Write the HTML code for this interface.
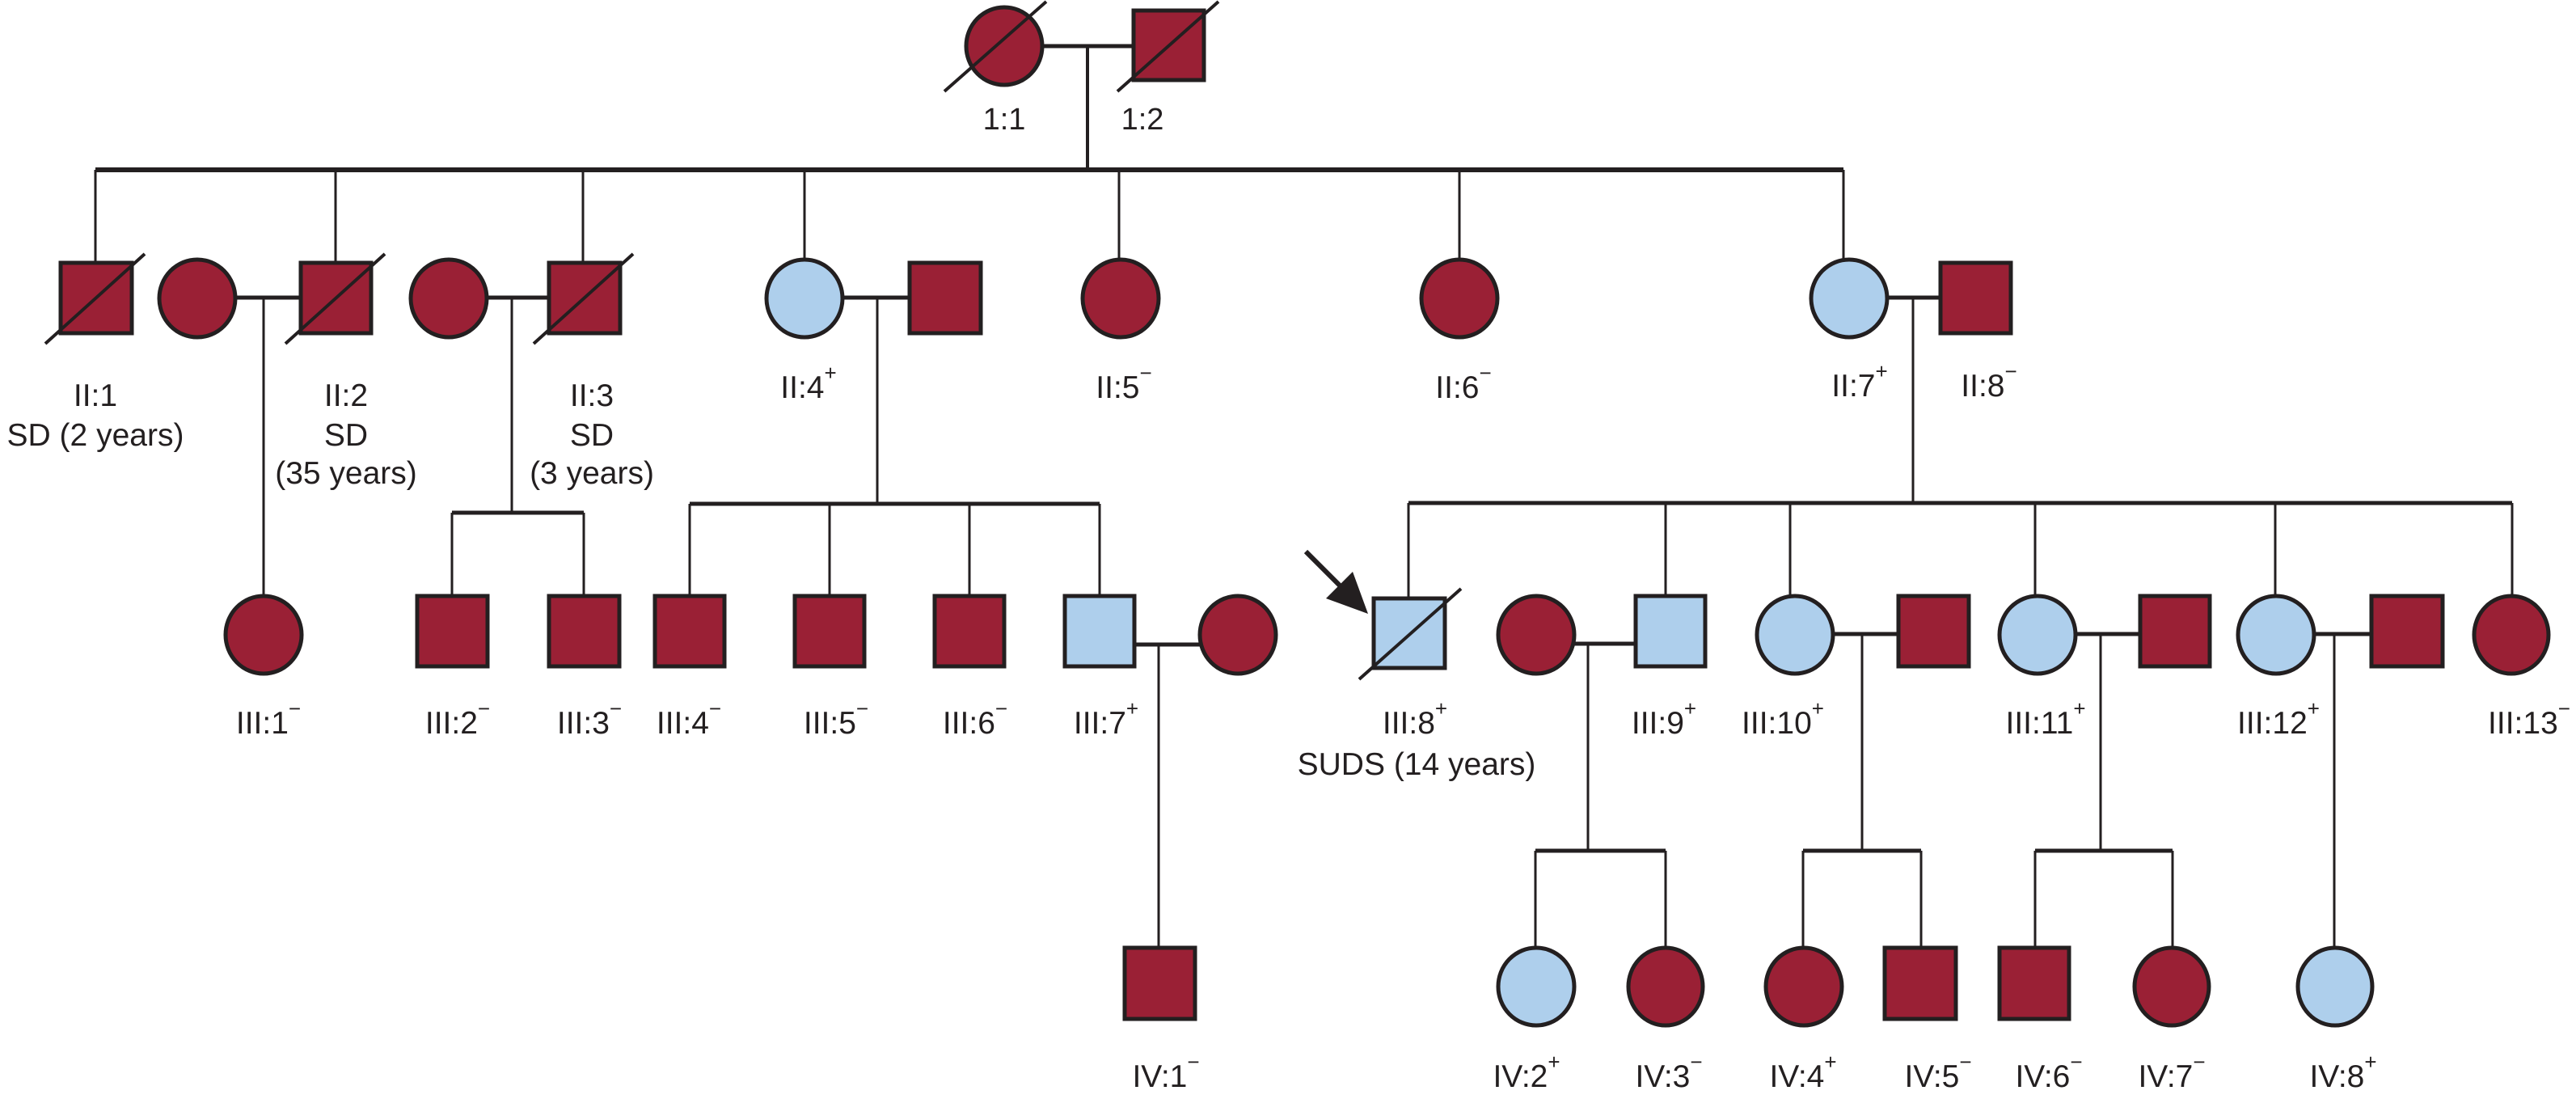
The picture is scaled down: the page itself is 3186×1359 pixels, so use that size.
<!DOCTYPE html>
<html><head><meta charset="utf-8"><style>
html,body{margin:0;padding:0;background:#fff;}
svg{display:block}
text{font-family:"Liberation Sans",sans-serif;font-size:39px;fill:#231f20;}
.r{font-family:"Liberation Sans",sans-serif;font-size:38px;}
.s{font-size:26px;}
</style></head><body>
<svg width="3186" height="1359" viewBox="0 0 3186 1359" xmlns="http://www.w3.org/2000/svg">
<g stroke="#231f20" fill="none">
<line x1="1290" y1="57" x2="1402" y2="57" stroke-width="5"/>
<line x1="1345" y1="57" x2="1345" y2="210" stroke-width="4"/>
<line x1="118" y1="210" x2="2280" y2="210" stroke-width="6"/>
<line x1="118" y1="210" x2="118" y2="325" stroke-width="3"/>
<line x1="415" y1="210" x2="415" y2="325" stroke-width="3"/>
<line x1="721" y1="210" x2="721" y2="325" stroke-width="3"/>
<line x1="995" y1="210" x2="995" y2="320" stroke-width="3"/>
<line x1="1384" y1="210" x2="1384" y2="320" stroke-width="3"/>
<line x1="1805" y1="210" x2="1805" y2="320" stroke-width="3"/>
<line x1="2280" y1="210" x2="2280" y2="320" stroke-width="3"/>
<line x1="291" y1="368" x2="372" y2="368" stroke-width="5"/>
<line x1="326" y1="368" x2="326" y2="737" stroke-width="3"/>
<line x1="602" y1="368" x2="679" y2="368" stroke-width="5"/>
<line x1="633" y1="368" x2="633" y2="634" stroke-width="3"/>
<line x1="559" y1="634" x2="722" y2="634" stroke-width="5"/>
<line x1="559" y1="634" x2="559" y2="737" stroke-width="3"/>
<line x1="722" y1="634" x2="722" y2="737" stroke-width="3"/>
<line x1="1042" y1="368" x2="1125" y2="368" stroke-width="5"/>
<line x1="1085" y1="368" x2="1085" y2="623" stroke-width="3"/>
<line x1="853" y1="623" x2="1360" y2="623" stroke-width="5"/>
<line x1="853" y1="623" x2="853" y2="737" stroke-width="3"/>
<line x1="1026" y1="623" x2="1026" y2="737" stroke-width="3"/>
<line x1="1199" y1="623" x2="1199" y2="737" stroke-width="3"/>
<line x1="1360" y1="623" x2="1360" y2="737" stroke-width="3"/>
<line x1="2333" y1="368" x2="2400" y2="368" stroke-width="5"/>
<line x1="2366" y1="368" x2="2366" y2="622" stroke-width="3"/>
<line x1="1742" y1="622" x2="3107" y2="622" stroke-width="5"/>
<line x1="1742" y1="622" x2="1742" y2="740" stroke-width="3"/>
<line x1="2060" y1="622" x2="2060" y2="737" stroke-width="3"/>
<line x1="2214" y1="622" x2="2214" y2="737" stroke-width="3"/>
<line x1="2517" y1="622" x2="2517" y2="737" stroke-width="3"/>
<line x1="2814" y1="622" x2="2814" y2="737" stroke-width="3"/>
<line x1="3107" y1="622" x2="3107" y2="737" stroke-width="3"/>
<line x1="1403" y1="797" x2="1484" y2="797" stroke-width="5"/>
<line x1="1433" y1="797" x2="1433" y2="1172" stroke-width="3"/>
<line x1="1947" y1="796" x2="2023" y2="796" stroke-width="5"/>
<line x1="1964" y1="796" x2="1964" y2="1052" stroke-width="3"/>
<line x1="1899" y1="1052" x2="2060" y2="1052" stroke-width="5"/>
<line x1="1899" y1="1052" x2="1899" y2="1172" stroke-width="3"/>
<line x1="2060" y1="1052" x2="2060" y2="1172" stroke-width="3"/>
<line x1="2268" y1="784" x2="2348" y2="784" stroke-width="5"/>
<line x1="2303" y1="784" x2="2303" y2="1052" stroke-width="3"/>
<line x1="2230" y1="1052" x2="2376" y2="1052" stroke-width="5"/>
<line x1="2230" y1="1052" x2="2230" y2="1172" stroke-width="3"/>
<line x1="2376" y1="1052" x2="2376" y2="1172" stroke-width="3"/>
<line x1="2568" y1="784" x2="2647" y2="784" stroke-width="5"/>
<line x1="2598" y1="784" x2="2598" y2="1052" stroke-width="3"/>
<line x1="2517" y1="1052" x2="2687" y2="1052" stroke-width="5"/>
<line x1="2517" y1="1052" x2="2517" y2="1172" stroke-width="3"/>
<line x1="2687" y1="1052" x2="2687" y2="1172" stroke-width="3"/>
<line x1="2862" y1="784" x2="2933" y2="784" stroke-width="5"/>
<line x1="2887" y1="784" x2="2887" y2="1172" stroke-width="3"/>
</g>
<g stroke="#231f20" stroke-width="5" fill="#9a2035">
<ellipse cx="1242" cy="57" rx="47" ry="48"/>
<rect x="1402" y="13" width="87" height="86"/>
<rect x="75" y="325" width="88" height="87"/>
<ellipse cx="244" cy="369" rx="47" ry="48"/>
<rect x="372" y="325" width="87" height="87"/>
<ellipse cx="555" cy="369" rx="47" ry="48"/>
<rect x="679" y="325" width="88" height="87"/>
<ellipse cx="995" cy="369" rx="47" ry="48" fill="#aecfec"/>
<rect x="1125" y="325" width="88" height="87"/>
<ellipse cx="1386" cy="369" rx="47" ry="48"/>
<ellipse cx="1805" cy="369" rx="47" ry="48"/>
<ellipse cx="2287" cy="369" rx="47" ry="48" fill="#aecfec"/>
<rect x="2400" y="325" width="87" height="87"/>
<ellipse cx="326" cy="785" rx="47" ry="48"/>
<rect x="516" y="737" width="87" height="87"/>
<rect x="679" y="737" width="87" height="87"/>
<rect x="810" y="737" width="86" height="87"/>
<rect x="983" y="737" width="86" height="87"/>
<rect x="1156" y="737" width="86" height="87"/>
<rect x="1317" y="737" width="86" height="87" fill="#aecfec"/>
<ellipse cx="1531" cy="785" rx="47" ry="48"/>
<rect x="1699" y="740" width="88" height="86" fill="#aecfec"/>
<ellipse cx="1900" cy="785" rx="47" ry="48"/>
<rect x="2023" y="737" width="86" height="87" fill="#aecfec"/>
<ellipse cx="2220" cy="785" rx="47" ry="48" fill="#aecfec"/>
<rect x="2348" y="737" width="87" height="87"/>
<ellipse cx="2520" cy="785" rx="47" ry="48" fill="#aecfec"/>
<rect x="2647" y="737" width="86" height="87"/>
<ellipse cx="2815" cy="785" rx="47" ry="48" fill="#aecfec"/>
<rect x="2933" y="737" width="88" height="87"/>
<ellipse cx="3106" cy="785" rx="46" ry="48"/>
<rect x="1391" y="1172" width="87" height="88"/>
<ellipse cx="1900" cy="1220" rx="47" ry="48" fill="#aecfec"/>
<ellipse cx="2060" cy="1220" rx="46" ry="48"/>
<ellipse cx="2231" cy="1220" rx="47" ry="48"/>
<rect x="2331" y="1172" width="88" height="88"/>
<rect x="2473" y="1172" width="86" height="88"/>
<ellipse cx="2686" cy="1220" rx="46" ry="48"/>
<ellipse cx="2888" cy="1220" rx="46" ry="48" fill="#aecfec"/>
</g>
<g stroke="#231f20" stroke-width="4">
<line x1="1168" y1="113" x2="1294" y2="2"/>
<line x1="1382" y1="113" x2="1507" y2="2"/>
<line x1="56" y1="425" x2="179" y2="314"/>
<line x1="353" y1="425" x2="476" y2="314"/>
<line x1="660" y1="425" x2="783" y2="314"/>
<line x1="1681" y1="840" x2="1807" y2="728"/>
</g>
<line x1="1615" y1="682" x2="1665" y2="732" stroke="#231f20" stroke-width="6"/>
<polygon points="1692,759 1673,707 1640,740" fill="#231f20"/>
<text class="r" x="1242" y="160" text-anchor="middle">1:1</text>
<text class="r" x="1413" y="160" text-anchor="middle">1:2</text>
<text x="118" y="502" text-anchor="middle">II:1</text>
<text x="118" y="551" text-anchor="middle">SD (2 years)</text>
<text x="428" y="502" text-anchor="middle">II:2</text>
<text x="428" y="551" text-anchor="middle">SD</text>
<text x="428" y="598" text-anchor="middle">(35 years)</text>
<text x="732" y="502" text-anchor="middle">II:3</text>
<text x="732" y="551" text-anchor="middle">SD</text>
<text x="732" y="598" text-anchor="middle">(3 years)</text>
<text x="1000" y="492" text-anchor="middle">II:4<tspan class="s" dy="-22">+</tspan></text>
<text x="1390" y="492" text-anchor="middle">II:5<tspan class="s" dy="-22">−</tspan></text>
<text x="1810" y="492" text-anchor="middle">II:6<tspan class="s" dy="-22">−</tspan></text>
<text x="2300" y="490" text-anchor="middle">II:7<tspan class="s" dy="-22">+</tspan></text>
<text x="2460" y="490" text-anchor="middle">II:8<tspan class="s" dy="-22">−</tspan></text>
<text x="332" y="907" text-anchor="middle">III:1<tspan class="s" dy="-22">−</tspan></text>
<text x="566" y="907" text-anchor="middle">III:2<tspan class="s" dy="-22">−</tspan></text>
<text x="729" y="907" text-anchor="middle">III:3<tspan class="s" dy="-22">−</tspan></text>
<text x="852" y="907" text-anchor="middle">III:4<tspan class="s" dy="-22">−</tspan></text>
<text x="1034" y="907" text-anchor="middle">III:5<tspan class="s" dy="-22">−</tspan></text>
<text x="1206" y="907" text-anchor="middle">III:6<tspan class="s" dy="-22">−</tspan></text>
<text x="1368" y="907" text-anchor="middle">III:7<tspan class="s" dy="-22">+</tspan></text>
<text x="1750" y="907" text-anchor="middle">III:8<tspan class="s" dy="-22">+</tspan></text>
<text x="1752" y="958" text-anchor="middle">SUDS (14 years)</text>
<text x="2058" y="907" text-anchor="middle">III:9<tspan class="s" dy="-22">+</tspan></text>
<text x="2205" y="907" text-anchor="middle">III:10<tspan class="s" dy="-22">+</tspan></text>
<text x="2530" y="907" text-anchor="middle">III:11<tspan class="s" dy="-22">+</tspan></text>
<text x="2818" y="907" text-anchor="middle">III:12<tspan class="s" dy="-22">+</tspan></text>
<text x="3128" y="907" text-anchor="middle">III:13<tspan class="s" dy="-22">−</tspan></text>
<text x="1442" y="1344" text-anchor="middle">IV:1<tspan class="s" dy="-22">−</tspan></text>
<text x="1888" y="1344" text-anchor="middle">IV:2<tspan class="s" dy="-22">+</tspan></text>
<text x="2064" y="1344" text-anchor="middle">IV:3<tspan class="s" dy="-22">−</tspan></text>
<text x="2230" y="1344" text-anchor="middle">IV:4<tspan class="s" dy="-22">+</tspan></text>
<text x="2397" y="1344" text-anchor="middle">IV:5<tspan class="s" dy="-22">−</tspan></text>
<text x="2534" y="1344" text-anchor="middle">IV:6<tspan class="s" dy="-22">−</tspan></text>
<text x="2686" y="1344" text-anchor="middle">IV:7<tspan class="s" dy="-22">−</tspan></text>
<text x="2898" y="1344" text-anchor="middle">IV:8<tspan class="s" dy="-22">+</tspan></text>
</svg>
</body></html>
